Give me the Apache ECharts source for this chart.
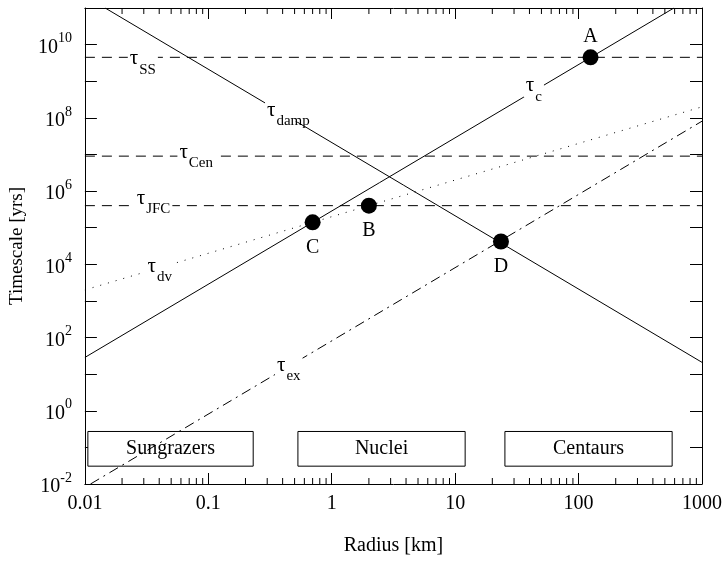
<!DOCTYPE html>
<html>
<head>
<meta charset="utf-8">
<script src="https://cdn.jsdelivr.net/npm/echarts@6/dist/echarts.min.js"></script>
<style>
  html, body { margin: 0; padding: 0; background: #fff; }
  #chart { width: 727px; height: 561px; }
</style>
</head>
<body>
<div id="chart"></div>
<script>
// radius [km] / timescale [yr] end points of each line
var tauC = [[0.01, 28.6], [592, 1e11]];
var tauDamp = [[0.0146, 1e11], [1000, 21]];
var tauDv = [[0.01, 2e3], [1000, 2e8]];
var tauEx = [[0.0111, 0.01], [1000, 8.1e7]];
var tauSS = [[0.01, 4.5e9], [1000, 4.5e9]];
var tauCen = [[0.01, 9e6], [1000, 9e6]];
var tauJFC = [[0.01, 4e5], [1000, 4e5]];

// marked points
var pointNames = ["A", "B", "C", "D"];
var pointR = [125, 2, 0.7, 23.5];
var pointT = [4.5e9, 4e5, 1.4e5, 4.2e4];

// curve labels (tau + subscript), anchored at the tau glyph
var labelSubs = ["SS", "Cen", "JFC", "dv", "damp", "c", "ex"];
var labelR = [0.0231, 0.0583, 0.0263, 0.0322, 0.299, 37.4, 0.36];
var labelT = [4.5e9, 1.26e7, 7e5, 9.7e3, 1.8e8, 8.2e8, 19];

// population boxes
var boxNames = ["Sungrazers", "Nuclei", "Centaurs"];
var boxR = [[0.01057, 0.231], [0.532, 12.05], [25.3, 573]];
var boxT = [0.0307, 0.272];

// axes
var xMin = 0.01, xMax = 1000;
var yMin = 0.01, yMax = 1e11;
var minorSteps = [2, 3, 4, 5, 6, 7, 8, 9];
var decades = [0.01, 0.1, 1, 10, 100];

var font = "Liberation Serif";
var minorTicks = [];
decades.forEach(function (d) {
  minorSteps.forEach(function (s) { minorTicks.push([+(d * s).toPrecision(3)]); });
});

function line(data, type) {
  return {
    type: "line",
    data: data,
    symbol: "none",
    silent: true,
    z: 2,
    lineStyle: { color: "#000", width: 1, type: type }
  };
}

var xAxisBase = {
  type: "log",
  logBase: 10,
  min: xMin,
  max: xMax,
  interval: 1,
  axisLine: { show: true, onZero: false, lineStyle: { color: "#000", width: 1 } },
  axisTick: { show: true, inside: true, length: 11, lineStyle: { color: "#000" } },
  splitLine: { show: false },
  minorTick: { show: false }
};
var yAxisBase = {
  type: "log",
  logBase: 10,
  min: yMin,
  max: yMax,
  interval: 1,
  axisLine: { show: true, onZero: false, lineStyle: { color: "#000", width: 1 } },
  axisTick: { show: true, inside: true, length: 12, lineStyle: { color: "#000" } },
  splitLine: { show: false }
};

var chart = echarts.init(document.getElementById("chart"));
chart.setOption({
  animation: false,
  backgroundColor: "#fff",
  textStyle: { fontFamily: font, color: "#000" },
  grid: { left: 82, right: 25, top: 8, bottom: 73 },
  xAxis: [
    Object.assign({}, xAxisBase, {
      position: "bottom",
      name: "Radius [km]",
      nameLocation: "middle",
      nameGap: 52,
      nameTextStyle: { fontFamily: font, fontSize: 20, color: "#000" },
      axisLabel: {
        fontFamily: font, fontSize: 20, color: "#000", margin: 10,
        formatter: function (v) { return String(+v.toPrecision(3)); }
      }
    }),
    Object.assign({}, xAxisBase, { position: "top", axisLabel: { show: false } })
  ],
  yAxis: [
    Object.assign({}, yAxisBase, {
      position: "left",
      name: "Timescale [yrs]",
      nameLocation: "middle",
      nameGap: 54,
      nameTextStyle: { fontFamily: font, fontSize: 19, color: "#000" },
      axisLabel: {
        color: "#000", margin: 13,
        formatter: function (v) {
          var e = Math.round(Math.log10(v));
          if (e % 2 !== 0) return "";
          return "{b|10}{e|" + e + "}";
        },
        rich: {
          b: { fontFamily: font, fontSize: 20, color: "#000", padding: [6, 0, 0, 0], verticalAlign: "top" },
          e: { fontFamily: font, fontSize: 14, color: "#000", verticalAlign: "top" }
        }
      }
    }),
    Object.assign({}, yAxisBase, { position: "right", axisLabel: { show: false } })
  ],
  series: [
    line(tauSS, [10, 7]),
    line(tauCen, [10, 7]),
    line(tauJFC, [10, 7]),
    line(tauC, "solid"),
    line(tauDamp, "solid"),
    line(tauDv, [1, 7]),
    line(tauEx, [10, 5, 2, 5]),
    {
      // minor x ticks at 2..9 of every decade, bottom and top
      type: "custom",
      data: minorTicks,
      silent: true,
      z: 3,
      renderItem: function (params, api) {
        var cs = params.coordSys;
        var x = api.coord([api.value(0), yMin])[0];
        var yb = cs.y + cs.height, yt = cs.y, len = 6;
        var st = { stroke: "#000", lineWidth: 1 };
        return {
          type: "group",
          children: [
            { type: "line", shape: { x1: x, y1: yb, x2: x, y2: yb - len }, style: st },
            { type: "line", shape: { x1: x, y1: yt, x2: x, y2: yt + len }, style: st }
          ]
        };
      }
    },
    {
      // population boxes
      type: "line",
      data: [],
      z: 6,
      markArea: {
        silent: true,
        itemStyle: { color: "#fff", opacity: 1, borderColor: "#000", borderWidth: 1 },
        label: { show: true, position: "inside", fontFamily: font, fontSize: 20, color: "#000" },
        data: boxNames.map(function (n, i) {
          return [
            { name: n, coord: [boxR[i][0], boxT[0]] },
            { coord: [boxR[i][1], boxT[1]] }
          ];
        })
      }
    },
    {
      // curve labels
      type: "scatter",
      symbolSize: 0,
      silent: true,
      z: 8,
      itemStyle: { opacity: 1 },
      data: labelSubs.map(function (s, i) { return { name: s, value: [labelR[i], labelT[i]] }; }),
      label: {
        show: true,
        position: "right",
        distance: 0,
        offset: [-2, 2],
        backgroundColor: "#fff",
        padding: [0, 2, 0, 2],
        formatter: function (p) { return "{t|τ}{s|" + p.name + "}"; },
        rich: {
          t: { fontFamily: font, fontSize: 21, color: "#000", lineHeight: 22, verticalAlign: "top" },
          s: { fontFamily: font, fontSize: 15, color: "#000", lineHeight: 16, padding: [14, 0, 0, 1], verticalAlign: "top" }
        }
      }
    },
    {
      // marked points
      type: "scatter",
      symbol: "circle",
      symbolSize: 16,
      silent: true,
      z: 9,
      itemStyle: { color: "#000", opacity: 1 },
      data: pointNames.map(function (n, i) {
        var above = n === "A";
        return {
          name: n,
          value: [pointR[i], pointT[i]],
          label: { position: above ? "top" : "bottom", distance: above ? 3 : 7 }
        };
      }),
      label: {
        show: true,
        fontFamily: font,
        fontSize: 20,
        color: "#000",
        formatter: function (p) { return p.name; }
      }
    }
  ]
});
</script>
</body>
</html>
